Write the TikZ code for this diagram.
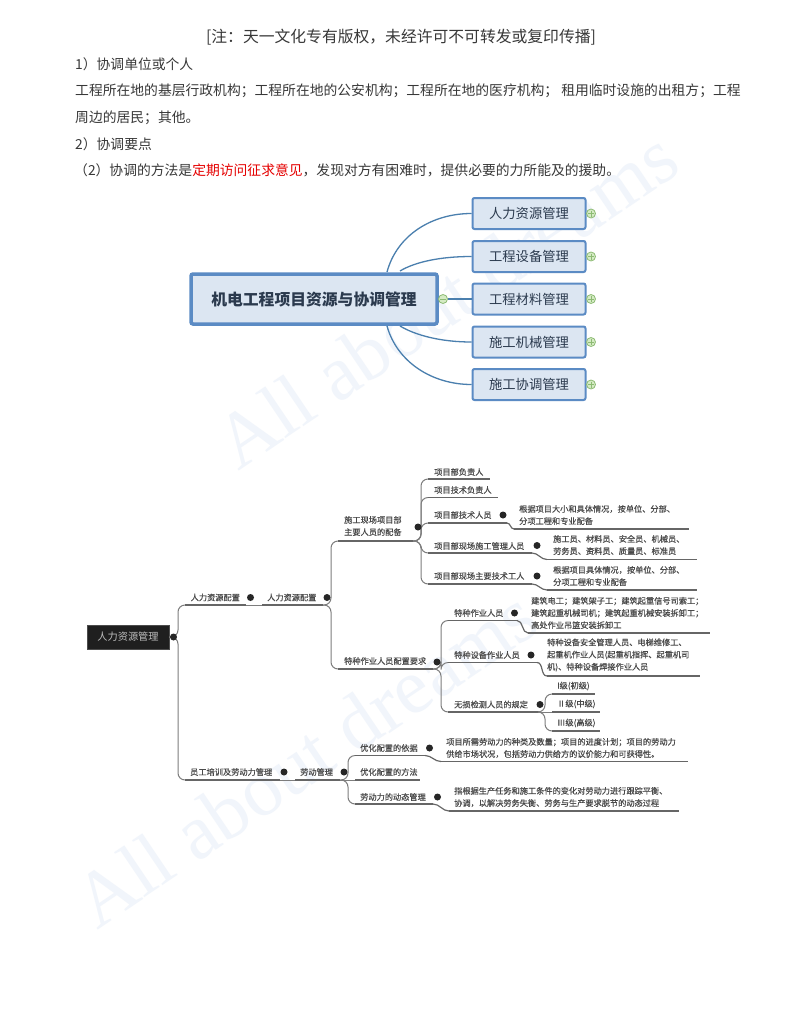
\documentclass[tikz,border=0pt]{standalone}
\usepackage{fontspec}
\setmainfont{Noto Sans CJK SC}
\newfontfamily\wmfont{Liberation Serif}
\newfontfamily\mapfont[RawFeature={embolden=0.5}]{Noto Sans CJK SC}
\usetikzlibrary{calc}
\definecolor{rootfill}{HTML}{DCE6F2}
\definecolor{rootline}{HTML}{5B8BC4}
\definecolor{curve}{HTML}{4A7FAE}
\definecolor{inktext}{HTML}{2B3A4E}
\definecolor{mapgray}{HTML}{666666}
\definecolor{maptext}{HTML}{4A4A4A}
\definecolor{wm}{HTML}{F1F5FB}
\definecolor{iconfill}{HTML}{D5EBC4}
\definecolor{iconline}{HTML}{8DBB74}
\tikzset{
  x=1pt,y=-1pt,
  para/.style={anchor=west,inner sep=0pt,font=\fontsize{13.8}{16}\selectfont,text=black!78},
  rootbox/.style={draw=rootline,fill=rootfill,line width=3.5pt,rounded corners=2pt,minimum width=246pt,minimum height=50pt,inner sep=0pt,font=\fontsize{15.8}{18}\selectfont\bfseries,text=inktext},
  childbox/.style={draw=rootline,fill=rootfill,line width=2pt,rounded corners=2pt,minimum width=113pt,minimum height=31pt,inner sep=0pt,font=\fontsize{13.3}{16}\selectfont,text=inktext},
  topcurve/.style={draw=curve,line width=1.3pt},
  plusicon/.style={circle,draw=iconline,fill=iconfill,line width=.8pt,minimum size=9pt,inner sep=0pt,
    path picture={\draw[iconline,line width=.6pt] ($(path picture bounding box.west)+(1.5,0)$)--($(path picture bounding box.east)+(-1.5,0)$) ($(path picture bounding box.north)+(0,1.5)$)--($(path picture bounding box.south)+(0,-1.5)$);}},
  minusicon/.style={circle,draw=iconline,fill=iconfill,line width=.8pt,minimum size=9pt,inner sep=0pt,
    path picture={\draw[iconline,line width=.6pt] ($(path picture bounding box.west)+(1.5,0)$)--($(path picture bounding box.east)+(-1.5,0)$);}},
  blackbox/.style={draw=black!70,fill=black!88,minimum width=82pt,minimum height=24pt,inner sep=0pt,font=\fontsize{10.2}{12}\selectfont,text=black!25},
  lab/.style={anchor=west,inner sep=0pt,align=left,font=\mapfont\fontsize{8.2}{12.2}\selectfont,text=maptext},
  bigdot/.style={circle,fill=black!85,minimum size=7pt,inner sep=0pt},
  uline/.style={draw=mapgray,line width=1.5pt},
  branch/.style={draw=mapgray!85,line width=1pt,rounded corners=7pt},
  tail/.style={draw=mapgray,line width=1.2pt},
  watermark/.style={font=\wmfont\fontsize{78}{78}\selectfont,text=wm,rotate=34,inner sep=0pt}
}
\newcommand{\topicline}[4]{\coordinate (#1-l) at (#2,#4);\coordinate (#1-r) at (#3,#4);\draw[uline] (#1-l) -- (#1-r);}
\newcommand{\linkto}[2]{\draw[branch] (#1-r) -| ($(#2-l)+(-7,0)$) -- (#2-l);}
\newcommand{\tailto}[2]{\draw[tail] (#1-r) to[out=0,in=180] (#2-l);}
\begin{document}
\begin{tikzpicture}
\useasboundingbox (0,0) rectangle (800,1035);
\fill[white] (0,0) rectangle (800,1035);
% watermarks
\node[watermark] (wm1) at (446,299) {All about dreams};
\node[watermark] (wm2) at (305,758) {All about dreams};
% header text
\node[para,anchor=center,font=\fontsize{15.8}{18}\selectfont] (title) at (401,37.5) {[注：天一文化专有版权，未经许可不可转发或复印传播]};
\node[para] (p1) at (75,64.5) {1）协调单位或个人};
\node[para] (p2) at (75,91) {工程所在地的基层行政机构；工程所在地的公安机构；工程所在地的医疗机构； 租用临时设施的出租方；工程};
\node[para] (p3) at (75,117.5) {周边的居民；其他。};
\node[para] (p4) at (75,144.5) {2）协调要点};
\node[para] (p5) at (74,170.5) {（2）协调的方法是\textcolor{red!90!black}{定期访问征求意见}，发现对方有困难时，提供必要的力所能及的援助。};
% top map
\node[rootbox] (root) at (314,299) {机电工程项目资源与协调管理};
\node[childbox] (c1) at (529,213.5) {人力资源管理};
\node[childbox] (c2) at (529,256.5) {工程设备管理};
\node[childbox] (c3) at (529,299) {工程材料管理};
\node[childbox] (c4) at (529,342) {施工机械管理};
\node[childbox] (c5) at (529,384.5) {施工协调管理};
\node[minusicon] (mi) at (443,299) {};
\draw[topcurve] (387,272) .. controls (397,235) and (432,213.5) .. (c1.west);
\draw[topcurve] (400,271) .. controls (415,262) and (440,256.5) .. (c2.west);
\draw[topcurve] (mi.east) -- (c3.west);
\draw[topcurve] (400,326) .. controls (415,335) and (440,342) .. (c4.west);
\draw[topcurve] (387,326) .. controls (397,362) and (432,384.5) .. (c5.west);
\foreach \i/\y in {1/213.5,2/256.5,3/299,4/342,5/384.5}{\node[plusicon] (pi\i) at (591,\y) {};}
% bottom map: underlines
\topicline{a1}{185}{246}{605}
\topicline{a2}{185}{280}{780}
\topicline{b1}{262}{323}{605}
\topicline{b2}{295}{340}{780}
\topicline{e1}{338}{413}{541}
\topicline{e2}{338}{433}{669}
\topicline{f1}{428}{490}{479}
\topicline{f2}{428}{498}{497.5}
\topicline{f3}{428}{507}{523}
\topicline{f4}{428}{532}{553}
\topicline{f5}{428}{532}{584}
\topicline{g3}{514}{689}{529}
\topicline{g4}{547}{697}{559.5}
\topicline{g5}{547}{697}{590}
\topicline{h1}{448}{517}{620.5}
\topicline{h2}{448}{537}{662.5}
\topicline{h3}{448}{541}{712}
\topicline{i1}{528}{710}{633}
\topicline{i2}{547}{700}{676}
\topicline{j1}{552}{595}{694}
\topicline{j2}{552}{600}{712}
\topicline{j3}{552}{600}{731}
\topicline{k1}{355}{425}{755.5}
\topicline{k2}{355}{420}{780}
\topicline{k3}{355}{433}{804}
\topicline{m1}{441}{688}{761.5}
\topicline{m3}{449}{679}{811}
% connectors
\node[blackbox] (bk) at (128,637) {人力资源管理};
\coordinate (bk-r) at (bk.east);
\linkto{bk}{a1}
\linkto{bk}{a2}
\draw[branch] (a1-r) -- (b1-l);
\draw[branch] (a2-r) -- (b2-l);
\linkto{b1}{e1}
\linkto{b1}{e2}
\linkto{e1}{f1}
\linkto{e1}{f2}
\linkto{e1}{f3}
\linkto{e1}{f4}
\linkto{e1}{f5}
\tailto{f3}{g3}
\tailto{f4}{g4}
\tailto{f5}{g5}
\linkto{e2}{h1}
\linkto{e2}{h2}
\linkto{e2}{h3}
\tailto{h1}{i1}
\tailto{h2}{i2}
\linkto{h3}{j1}
\draw[branch] (h3-r) -- (j2-l);
\linkto{h3}{j3}
\linkto{b2}{k1}
\draw[branch] (b2-r) -- (k2-l);
\linkto{b2}{k3}
\tailto{k1}{m1}
\tailto{k3}{m3}
% dots
\foreach \n/\x/\y in {d0/173.5/637,d1/250.5/597.5,d2/327/597.5,d3/418/527,d4/437/662,d5/503/515,d6/537/545.5,d7/537/576,d8/514.5/613,d9/531/655,d10/540/704.5,d11/284/772,d12/344/772,d13/429.5/748,d14/437.5/797}{\node[bigdot] (\n) at (\x,\y) {};}
% labels
\node[lab] (t1) at (190.5,597.5) {人力资源配置};
\node[lab] (t2) at (267,597.5) {人力资源配置};
\node[lab] (t3) at (344,526) {施工现场项目部\\主要人员的配备};
\node[lab] (t4) at (344,661) {特种作业人员配置要求};
\node[lab] (t5) at (434,472) {项目部负责人};
\node[lab] (t6) at (434,490) {项目技术负责人};
\node[lab] (t7) at (434,515) {项目部技术人员};
\node[lab] (t8) at (434,546) {项目部现场施工管理人员};
\node[lab] (t9) at (434,576) {项目部现场主要技术工人};
\node[lab] (t10) at (519,515) {根据项目大小和具体情况，按单位、分部、\\分项工程和专业配备};
\node[lab] (t11) at (553,545) {施工员、材料员、安全员、机械员、\\劳务员、资料员、质量员、标准员};
\node[lab] (t12) at (553,576) {根据项目具体情况，按单位、分部、\\分项工程和专业配备};
\node[lab] (t13) at (454,613) {特种作业人员};
\node[lab] (t14) at (531,613) {建筑电工；建筑架子工；建筑起重信号司索工；\\建筑起重机械司机；建筑起重机械安装拆卸工；\\高处作业吊篮安装拆卸工};
\node[lab] (t15) at (454,655) {特种设备作业人员};
\node[lab] (t16) at (547,655) {特种设备安全管理人员、电梯维修工、\\起重机作业人员(起重机指挥、起重机司\\机)、特种设备焊接作业人员};
\node[lab] (t17) at (454,704.5) {无损检测人员的规定};
\node[lab] (t18) at (557,686) {I级(初级)};
\node[lab] (t19) at (557,704) {Ⅱ级(中级)};
\node[lab] (t20) at (557,723) {Ⅲ级(高级)};
\node[lab] (t21) at (190,772) {员工培训及劳动力管理};
\node[lab] (t22) at (300,772) {劳动管理};
\node[lab] (t23) at (360,748) {优化配置的依据};
\node[lab] (t24) at (360,772) {优化配置的方法};
\node[lab] (t25) at (360,797) {劳动力的动态管理};
\node[lab] (t26) at (446,748) {项目所需劳动力的种类及数量；项目的进度计划；项目的劳动力\\供给市场状况，包括劳动力供给方的议价能力和可获得性。};
\node[lab] (t27) at (454,797) {指根据生产任务和施工条件的变化对劳动力进行跟踪平衡、\\协调，以解决劳务失衡、劳务与生产要求脱节的动态过程};
\end{tikzpicture}
\end{document}
